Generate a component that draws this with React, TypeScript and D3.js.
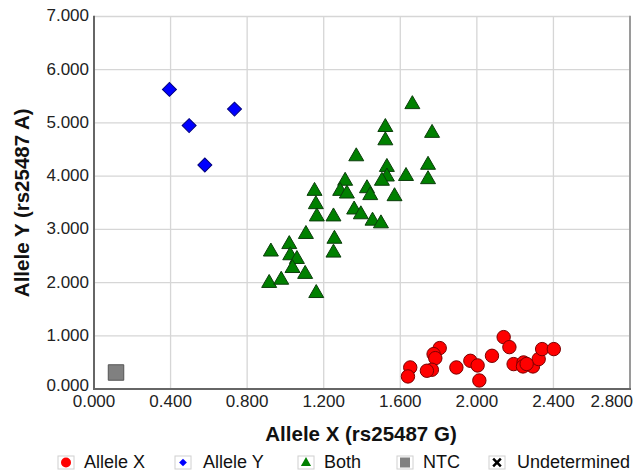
import * as d3 from "d3";
import React from "react";

// genotype calls, [allele X, allele Y]
const alleleX: [number, number][] = [
  [1.652, 0.405], [1.640, 0.236], [1.806, 0.769], [1.774, 0.656], [1.783, 0.58],
  [1.765, 0.362], [1.739, 0.343], [1.893, 0.405], [1.966, 0.53], [2.004, 0.443],
  [2.013, 0.16], [2.079, 0.624], [2.140, 0.975], [2.170, 0.787], [2.192, 0.468],
  [2.244, 0.499], [2.241, 0.424], [2.293, 0.424], [2.323, 0.562], [2.341, 0.75],
  [2.402, 0.75], [2.26, 0.47],
];
const alleleY: [number, number][] = [
  [0.394, 5.63], [0.497, 4.95], [0.579, 4.21], [0.734, 5.26],
];
const both: [number, number][] = [
  [1.663, 5.35], [1.522, 4.92], [1.522, 4.67], [1.766, 4.81], [1.370, 4.37],
  [1.530, 4.17], [1.530, 3.99], [1.504, 3.91], [1.630, 4.00], [1.745, 4.21],
  [1.745, 3.94], [1.570, 3.62], [1.426, 3.77], [1.443, 3.64], [1.312, 3.91],
  [1.286, 3.72], [1.321, 3.67], [1.359, 3.37], [1.394, 3.28], [1.455, 3.16],
  [1.499, 3.11], [1.152, 3.72], [1.159, 3.47], [1.164, 3.24], [1.251, 3.24],
  [1.107, 2.91], [1.256, 2.82], [1.251, 2.56], [0.924, 2.58], [1.020, 2.72],
  [1.025, 2.51], [1.060, 2.44], [1.037, 2.27], [1.103, 2.16], [0.915, 1.99],
  [0.978, 2.05], [1.161, 1.80],
];
const ntc: [number, number][] = [[0.115, 0.31]];

const xTicks = [0, 0.4, 0.8, 1.2, 1.6, 2.0, 2.4, 2.8];
const yTicks = [0, 1, 2, 3, 4, 5, 6, 7];
const legendLabels = ["Allele X", "Allele Y", "Both", "NTC", "Undetermined"];

const W = 643, H = 475;
const margin = {left: 94, top: 16.5, right: 13, bottom: 86};
const font = "'Liberation Sans', Arial, sans-serif";

const x = d3.scaleLinear().domain([0, 2.8]).range([margin.left, W - margin.right]);
const y = d3.scaleLinear().domain([0, 7]).range([H - margin.bottom, margin.top]);
const fmt = d3.format(".3f");

const circle = d3.symbol().type(d3.symbolCircle).size(141)();
const square = d3.symbol().type(d3.symbolSquare).size(98)();
const triangle = d3.symbol().type(d3.symbolTriangle).size(97)();
const ntcSquare = d3.symbol().type(d3.symbolSquare).size(240)();

const App = () => {
  const [x0, x1] = x.range();
  const [y0, y1] = y.range();

  // legend: icon box centre and text start
  const legendX = [66, 183, 306, 405, 497];
  const legendText = [84, 203, 324, 423, 517];
  const ly = 462;

  return (
    <svg width={W} height={H} style={{position: "absolute", left: 0, top: 0}} fontFamily={font}>
      <rect width={W} height={H} fill="#fff"/>
      {/* grid */}
      {xTicks.slice(1).map(t => (
        <line key={"gx" + t} x1={x(t)} x2={x(t)} y1={y1} y2={y0} stroke="#d6d6d6" strokeWidth={1.3}/>
      ))}
      {yTicks.slice(1).map(t => (
        <line key={"gy" + t} x1={x0} x2={x1} y1={y(t)} y2={y(t)} stroke="#d6d6d6" strokeWidth={1.3}/>
      ))}
      <line x1={x1} x2={x1} y1={y1 - 0.7} y2={y0} stroke="#9a9a9a" strokeWidth={2}/>

      {/* points */}
      {both.map((d, i) => (
        <path key={"b" + i} d={triangle} transform={`translate(${x(d[0])},${y(d[1])})`}
              fill="#008000" stroke="#0b3d0b" strokeWidth={1}/>
      ))}
      {alleleY.map((d, i) => (
        <path key={"y" + i} d={square} transform={`translate(${x(d[0])},${y(d[1])}) rotate(45)`}
              fill="#0000ff" stroke="#00007a" strokeWidth={1}/>
      ))}
      {alleleX.map((d, i) => (
        <path key={"x" + i} d={circle} transform={`translate(${x(d[0])},${y(d[1])})`}
              fill="#ff0000" stroke="#7a0000" strokeWidth={1}/>
      ))}
      {ntc.map((d, i) => (
        <path key={"n" + i} d={ntcSquare} transform={`translate(${x(d[0])},${y(d[1])})`}
              fill="#808080" stroke="#555" strokeWidth={1}/>
      ))}

      {/* axes */}
      <line x1={x0} x2={x0} y1={y1 - 0.7} y2={y0 + 1} stroke="#666" strokeWidth={2}/>
      <line x1={x0 - 1} x2={x1 + 1} y1={y0} y2={y0} stroke="#666" strokeWidth={2}/>
      {yTicks.map(t => (
        <text key={"ty" + t} x={x0 - 5} y={y(t) - (t === 0 ? 4 : 1)} dy="0.35em" textAnchor="end"
              fontSize={17} fill="#222">
          {fmt(t)}
        </text>
      ))}
      {xTicks.map((t, i) => {
        const last = i === xTicks.length - 1;
        return (
          <text key={"tx" + t} x={last ? W - 10 : x(t)} y={y0 + 18}
                textAnchor={last ? "end" : "middle"} fontSize={17} fill="#222">
            {fmt(t)}
          </text>
        );
      })}

      <text x={361} y={441} textAnchor="middle" fontSize={20.5} fontWeight="bold" fill="#111">
        Allele X (rs25487 G)
      </text>
      <text transform={`translate(29,${(y0 + y1) / 2}) rotate(-90)`} textAnchor="middle"
            fontSize={20.5} fontWeight="bold" fill="#111">
        Allele Y (rs25487 A)
      </text>

      {/* legend */}
      {legendLabels.map((lab, i) => (
        <g key={lab}>
          <rect x={legendX[i] - 8} y={ly - 6} width={16} height={13} fill="#fff" stroke="#d0d0d0" strokeWidth={1}/>
          {i === 0 && <circle cx={legendX[i]} cy={ly + 0.5} r={5} fill="#ff0000"/>}
          {i === 1 && <path d={d3.symbol().type(d3.symbolSquare).size(30)()}
                            transform={`translate(${legendX[i]},${ly + 0.5}) rotate(45)`} fill="#0000ff"/>}
          {i === 2 && <path d={d3.symbol().type(d3.symbolTriangle).size(45)()}
                            transform={`translate(${legendX[i]},${ly + 1})`} fill="#008000"/>}
          {i === 3 && <rect x={legendX[i] - 5} y={ly - 4.5} width={10} height={10} fill="#808080"/>}
          {i === 4 && <path d={d3.symbol().type(d3.symbolX).size(40)()}
                            transform={`translate(${legendX[i]},${ly + 0.5})`} stroke="#000" strokeWidth={2.5}/>}
          <text x={legendText[i]} y={ly} dy="0.35em" fontSize={18} fill="#111">{lab}</text>
        </g>
      ))}
    </svg>
  );
};

export default App;
